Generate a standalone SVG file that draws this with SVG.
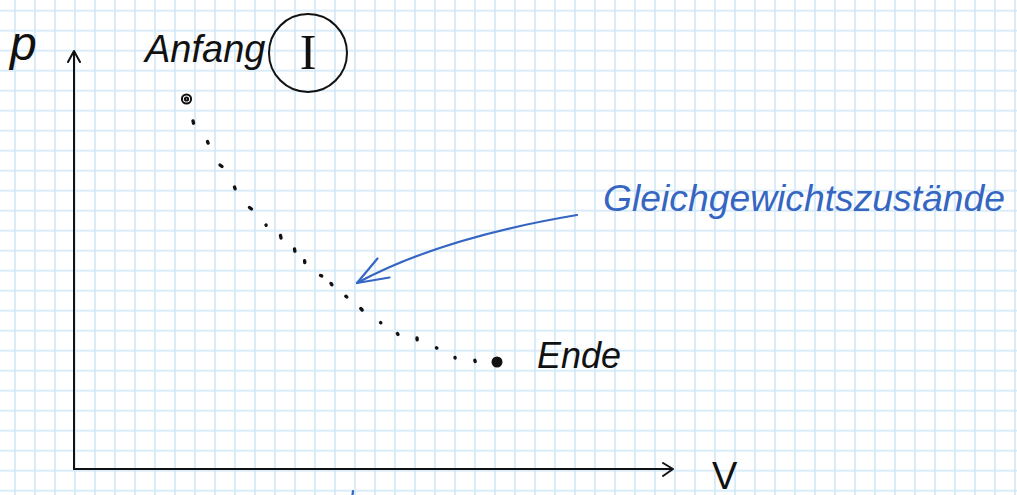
<svg xmlns="http://www.w3.org/2000/svg" width="1017" height="495" viewBox="0 0 1017 495">
<style>
.ink{fill:none;stroke:#111;stroke-width:2;stroke-linecap:round;stroke-linejoin:round}
.dot{fill:none;stroke:#111;stroke-width:3.4;stroke-linecap:round}
.blue{fill:none;stroke:#3566c2;stroke-width:2.2;stroke-linecap:round;stroke-linejoin:round}
.hand{font-family:"Liberation Sans",Arial,sans-serif;fill:#111}
.bluetxt{font-family:"Liberation Sans",Arial,sans-serif;fill:#3566c2}
</style>
<defs>
<pattern id="grid" x="5" y="0.7" width="20" height="20" patternUnits="userSpaceOnUse">
<path d="M10 0V20M0 10H20" stroke="#cfe6f8" stroke-width="1.5" fill="none"/>
</pattern>
</defs>
<rect width="1017" height="495" fill="#fff"/>
<rect width="1017" height="495" fill="url(#grid)"/>

<g id="axes">
<path class="ink" d="M74 469V51M68 62L74 51L80 62"/>
<path class="ink" d="M74 469H673M663 463L673 469L663 476"/>
<text class="hand" x="10" y="60" font-size="48" font-style="italic">p</text>
<text class="hand" x="712" y="489" font-size="38">V</text>
</g>

<g id="start">
<circle cx="186.5" cy="99" r="4.6" class="ink" stroke-width="2.6"/>
<circle cx="186.5" cy="99" r="1.6" class="ink" stroke-width="1.8"/>
<text class="hand" x="145" y="62" font-size="38" font-style="italic">Anfang</text>
<circle cx="308" cy="53" r="39" class="ink"/>
<text x="308" y="69" font-size="50" text-anchor="middle" font-family="Liberation Serif,serif" fill="#111">I</text>
</g>

<g id="end">
<circle cx="497" cy="362" r="5.5" fill="#111"/>
<text class="hand" x="537" y="368" font-size="36" font-style="italic">Ende</text>
</g>

<g id="connectors">
<g class="dot">
<path d="M193 121l0.6 2.2"/>
<path d="M207.5 141.5l0.6 1.6"/>
<path d="M220 165l2 1.5"/>
<path d="M234.5 187l0.6 1.8"/>
<path d="M249.5 207.5l2 1.5"/>
<path d="M266 225l0.1 0.3"/>
<path d="M280.5 235.5l0.5 2.5"/>
<path d="M294.5 249l0.4 2.2"/>
<path d="M304.6 260.7l0.2 1.8"/>
<path d="M320.5 275.5l1.2 0.4"/>
<path d="M331 283.5l0.9 1.3"/>
<path d="M345.8 296.2l1 0.8"/>
<path d="M360.8 308.5l1.4 1.5"/>
<path d="M380.6 322.6l0.2 0.2"/>
<path d="M397.4 333.6l0.6 0.8"/>
<path d="M417 338l0.2 1.8"/>
<path d="M436.5 347.8l0.4 0.3"/>
<path d="M455 357.5l0.1 0.5"/>
<path d="M474.8 360.3l0.4 1.2"/>
</g>
<path class="blue" d="M577 215Q440 238 357 283"/>
<path class="blue" d="M377.5 258.5L357 283L389.5 277.5"/>
<path class="blue" d="M352.5 495L353 491"/>
</g>

<g id="label">
<text class="bluetxt" x="603" y="211" font-size="36" font-style="italic" textLength="402" lengthAdjust="spacingAndGlyphs">Gleichgewichtszustände</text>
</g>
</svg>
